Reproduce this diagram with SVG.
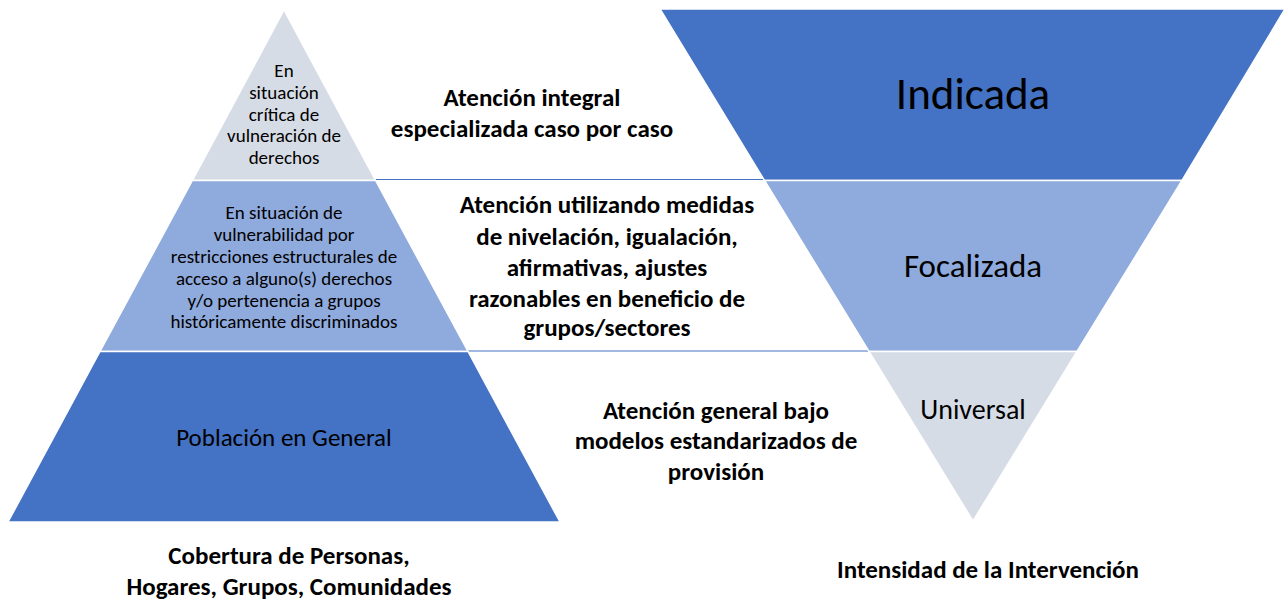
<svg xmlns="http://www.w3.org/2000/svg" width="1286" height="599" viewBox="0 0 1286 599">
<style>
text{font-family:Carlito,Calibri,Lato,"Liberation Sans",sans-serif;fill:#000;text-anchor:middle;dominant-baseline:central}
.b{font-weight:bold;font-size:25px}
.s{font-size:19px}
.dark{fill:#4472C4;stroke:#fff;stroke-width:1.5}
.mid{fill:#8FAADC;stroke:#fff;stroke-width:1.5}
.light{fill:#D6DCE5;stroke:#fff;stroke-width:1.5}
.conn{stroke:#4472C4;stroke-width:1.2;fill:none}
</style>
<rect width="1286" height="599" fill="#fff"/>
<g id="connectors">
<line class="conn" x1="367" y1="179.5" x2="765" y2="179.5"/>
<line class="conn" x1="466" y1="351" x2="870" y2="351"/>
</g>
<g id="pyr-top">
<polygon class="light" points="284,10 375.6,180.5 192.4,180.5"/>
<text class="s" x="284" y="70">En</text>
<text class="s" x="284" y="92">situación</text>
<text class="s" x="284" y="114">crítica de</text>
<text class="s" x="284" y="135">vulneración de</text>
<text class="s" x="284" y="157">derechos</text>
</g>
<g id="pyr-mid">
<polygon class="mid" points="192.4,180.5 375.6,180.5 468,351.5 100,351.5"/>
<text class="s" x="284" y="212">En situación de</text>
<text class="s" x="284" y="234">vulnerabilidad por</text>
<text class="s" x="284" y="256">restricciones estructurales de</text>
<text class="s" x="284" y="278">acceso a alguno(s) derechos</text>
<text class="s" x="284" y="300">y/o pertenencia a grupos</text>
<text class="s" x="284" y="321">históricamente discriminados</text>
</g>
<g id="pyr-bot">
<polygon class="dark" points="100,351.5 468,351.5 560,522 8,522"/>
<text x="284" y="437" font-size="25">Población en General</text>
</g>
<g id="inv-top">
<polygon class="dark" points="660,9 1285,9 1182,180.5 764.5,180.5"/>
<text x="973" y="93" font-size="45">Indicada</text>
</g>
<g id="inv-mid">
<polygon class="mid" points="764.5,180.5 1182,180.5 1077,351.5 869,351.5"/>
<text x="973" y="266" font-size="33">Focalizada</text>
</g>
<g id="inv-bot">
<polygon class="light" points="869,351.5 1077,351.5 973,521"/>
<text x="973" y="409" font-size="28">Universal</text>
</g>
<g id="label-integral">
<text class="b" x="532" y="97">Atención integral</text>
<text class="b" x="532" y="128">especializada caso por caso</text>
</g>
<g id="label-nivelacion">
<text class="b" x="607" y="204">Atención utilizando medidas</text>
<text class="b" x="607" y="236">de nivelación, igualación,</text>
<text class="b" x="607" y="267">afirmativas, ajustes</text>
<text class="b" x="607" y="298">razonables en beneficio de</text>
<text class="b" x="607" y="327">grupos/sectores</text>
</g>
<g id="label-general">
<text class="b" x="716" y="410">Atención general bajo</text>
<text class="b" x="716" y="440">modelos estandarizados de</text>
<text class="b" x="716" y="471">provisión</text>
</g>
<g id="label-cobertura">
<text class="b" x="289" y="555">Cobertura de Personas,</text>
<text class="b" x="289" y="586">Hogares, Grupos, Comunidades</text>
</g>
<g id="label-intensidad">
<text class="b" x="988" y="569">Intensidad de la Intervención</text>
</g>
</svg>
